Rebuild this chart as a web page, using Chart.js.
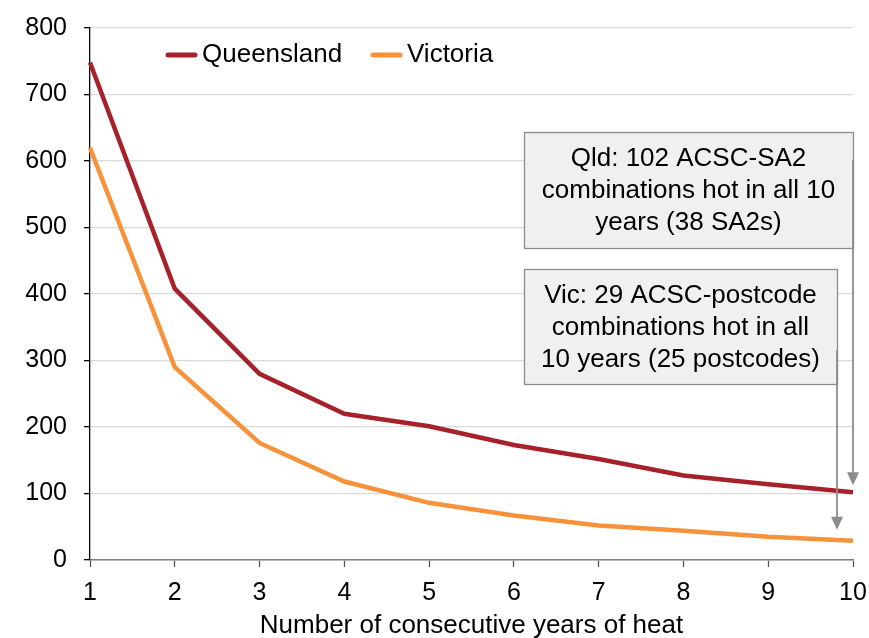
<!DOCTYPE html>
<html>
<head>
<meta charset="utf-8">
<script src="https://cdn.jsdelivr.net/npm/chart.js@4.4.1/dist/chart.umd.min.js"></script>
<style>
  html, body { margin: 0; padding: 0; background: #fff; }
  #wrap { width: 869px; height: 638px; position: relative; }
</style>
</head>
<body>
<div id="wrap"><canvas id="c" width="869" height="638"></canvas></div>
<script>
const categories = ['1', '2', '3', '4', '5', '6', '7', '8', '9', '10'];
const queensland = [748, 408, 280, 220, 201, 173, 152, 127, 114, 102];
const victoria   = [620, 290, 176, 118, 86, 67, 52, 44, 35, 29];
const seriesNames = ['Queensland', 'Victoria'];
const yTicks = [0, 100, 200, 300, 400, 500, 600, 700, 800];
const xTitle = 'Number of consecutive years of heat';
const noteQld = ['Qld: 102 ACSC-SA2', 'combinations hot in all 10', 'years (38 SA2s)'];
const noteVic = ['Vic: 29 ACSC-postcode', 'combinations hot in all', '10 years (25 postcodes)'];

const FONT = 'Liberation Sans, Arial, sans-serif';
const QLD_COLOR = '#a6212a';
const VIC_COLOR = '#f7923a';

const overlay = {
  id: 'overlay',
  afterDraw(chart) {
    const ctx = chart.ctx;
    ctx.save();
    // legend
    ctx.font = '26px ' + FONT;
    ctx.textBaseline = 'middle';
    ctx.textAlign = 'left';
    const legendItems = [
      { name: seriesNames[0], color: QLD_COLOR, x: 168 },
      { name: seriesNames[1], color: VIC_COLOR, x: 373 }
    ];
    legendItems.forEach(it => {
      ctx.strokeStyle = it.color;
      ctx.lineWidth = 5;
      ctx.lineCap = 'round';
      ctx.beginPath();
      ctx.moveTo(it.x, 55);
      ctx.lineTo(it.x + 27, 55);
      ctx.stroke();
      ctx.fillStyle = '#000';
      ctx.fillText(it.name, it.x + 34, 55);
    });
    ctx.lineCap = 'butt';

    function box(x1, y1, x2, y2, lines, lineY) {
      ctx.fillStyle = '#f0f0f0';
      ctx.fillRect(x1, y1, x2 - x1, y2 - y1);
      ctx.strokeStyle = '#8c8c8c';
      ctx.lineWidth = 1.3;
      ctx.strokeRect(x1 + 0.5, y1 + 0.5, x2 - x1, y2 - y1);
      ctx.fillStyle = '#000';
      ctx.font = '26px ' + FONT;
      ctx.textAlign = 'center';
      ctx.textBaseline = 'middle';
      lines.forEach((t, i) => ctx.fillText(t, (x1 + x2) / 2, lineY + i * 32));
    }
    function arrow(x, y1, y2) {
      ctx.strokeStyle = '#8c8c8c';
      ctx.fillStyle = '#8c8c8c';
      ctx.lineWidth = 1.8;
      ctx.beginPath();
      ctx.moveTo(x, y1);
      ctx.lineTo(x, y2 - 10);
      ctx.stroke();
      ctx.beginPath();
      ctx.moveTo(x - 6, y2 - 13);
      ctx.lineTo(x + 6, y2 - 13);
      ctx.lineTo(x, y2);
      ctx.closePath();
      ctx.fill();
    }
    const xs = chart.scales.x, ys = chart.scales.y;
    const x10 = xs.getPixelForValue(9);
    box(524, 132, x10, 248, noteQld, 159);
    box(524, 269, x10 - 16, 384, noteVic, 296);
    arrow(x10, 160, ys.getPixelForValue(102) - 7);
    arrow(x10 - 16, 350, ys.getPixelForValue(29) - 11);
    ctx.restore();
  }
};

new Chart(document.getElementById('c'), {
  type: 'line',
  data: {
    labels: categories,
    datasets: [
      { label: seriesNames[0], data: queensland, borderColor: QLD_COLOR, backgroundColor: QLD_COLOR,
        borderWidth: 4.5, pointRadius: 0, tension: 0 },
      { label: seriesNames[1], data: victoria, borderColor: VIC_COLOR, backgroundColor: VIC_COLOR,
        borderWidth: 4.5, pointRadius: 0, tension: 0 }
    ]
  },
  options: {
    responsive: false,
    animation: false,
    devicePixelRatio: 1,
    layout: { padding: { top: 28, right: 16, left: 0, bottom: 0 } },
    plugins: { legend: { display: false }, tooltip: { enabled: false } },
    scales: {
      x: {
        type: 'category',
        offset: false,
        afterFit(s) { s.height = 78; s.paddingRight = 0; s.paddingLeft = 0; },
        grid: { drawOnChartArea: false, drawTicks: true, tickLength: 7, tickColor: '#555', tickWidth: 1.3 },
        border: { color: '#808080', width: 1.5 },
        ticks: { color: '#000', font: { family: FONT, size: 25 }, padding: 11, maxRotation: 0, autoSkip: false },
        title: { display: true, text: xTitle, color: '#000', font: { family: FONT, size: 26, lineHeight: 0.9 }, padding: 0 }
      },
      y: {
        min: 0, max: 800,
        afterFit(s) { s.width = 90; s.paddingTop = 0; s.paddingBottom = 0; },
        afterBuildTicks(s) { s.ticks = yTicks.map(v => ({ value: v })); },
        grid: { color: '#d9d9d9', lineWidth: 1.3, tickLength: 6, tickColor: '#000', tickWidth: 1.3 },
        border: { color: '#000', width: 1.3 },
        ticks: { color: '#000', font: { family: FONT, size: 25 }, padding: 17 }
      }
    }
  },
  plugins: [overlay]
});
</script>
</body>
</html>
